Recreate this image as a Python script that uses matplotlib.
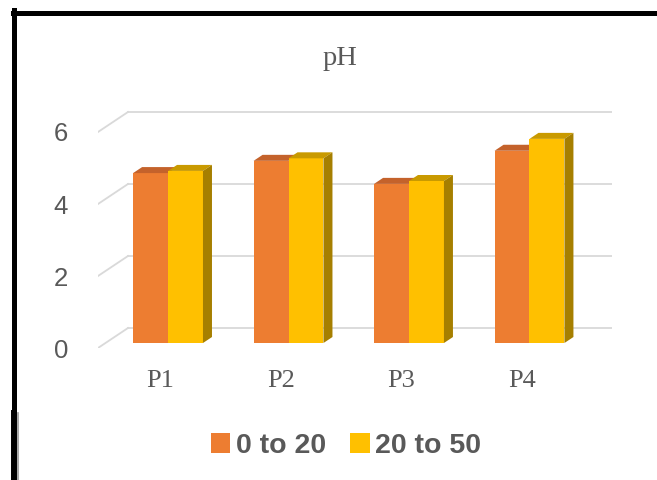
import matplotlib
matplotlib.use("Agg")
import matplotlib.pyplot as plt
from matplotlib.patches import Polygon, Patch
from matplotlib.lines import Line2D

categories = ["P1", "P2", "P3", "P4"]
series_names = ["0 to 20", "20 to 50"]
depth_0_20 = [4.72, 5.06, 4.42, 5.34]
depth_20_50 = [4.78, 5.13, 4.50, 5.67]
y_ticks = [0, 2, 4, 6]

front_cols = ["#ED7D31", "#FFC000"]
top_cols = ["#C4622B", "#C99A00"]
side_col = "#A67F00"
grid_col = "#D9D9D9"
text_col = "#595959"

# oblique projection: depth d (0 = floor front, 1 = back wall)
KX = 30 / 120.5
KY = 20 / 36.0


def proj(x, v, d):
    return (x + d * KX, v + d * KY)


fig = plt.figure(figsize=(6.57, 4.8), dpi=100)
W, H = 657, 480
ax = fig.add_axes([98 / W, 1 - 348 / H, (612 - 98) / W, (348 - 100) / H])
ax.set_xlim(-0.519, 3.747)
ax.set_ylim(0, 248 / 36)
for s in ax.spines.values():
    s.set_visible(False)

# walls
x_left = -0.519
for v in y_ticks:
    p0 = proj(x_left, v, 0)
    p1 = proj(x_left, v, 1)
    ax.plot([p0[0], p1[0]], [p0[1], p1[1]], color=grid_col, lw=1.3, zorder=1)
    ax.plot([p1[0], 3.747], [p1[1], p1[1]], color=grid_col, lw=1.3, zorder=1)

bw = 0.29
d0, d1 = 0.25, 0.55
z = 2
for i, cat in enumerate(categories):
    for k, vals in enumerate([depth_0_20, depth_20_50]):
        v = vals[i]
        x0 = i - bw + k * bw
        x1 = x0 + bw
        bx, by = proj(x0, 0, d0)
        ax.bar(bx, v, width=bw, bottom=by, align="edge", color=front_cols[k],
               zorder=z)
        top = [proj(x0, v, d0), proj(x1, v, d0), proj(x1, v, d1), proj(x0, v, d1)]
        ax.add_patch(Polygon(top, closed=True, color=top_cols[k], lw=0, zorder=z))
        if k == 1:
            side = [proj(x1, 0, d0), proj(x1, v, d0), proj(x1, v, d1), proj(x1, 0, d1)]
            ax.add_patch(Polygon(side, closed=True, color=side_col, lw=0, zorder=z))
        z += 1

ax.set_yticks(y_ticks)
ax.set_yticklabels([str(t) for t in y_ticks], fontsize=18.5, color=text_col,
                   family="Liberation Sans")
ax.set_xticks(range(len(categories)))
ax.set_xticklabels(categories, fontsize=19, color=text_col, family="Liberation Serif")
ax.tick_params(axis="y", length=0, pad=21.5)
ax.tick_params(axis="x", length=0, pad=16)

fig.text(340 / W, 1 - 65 / H, "pH", ha="center", va="baseline", fontsize=20.5,
         color=text_col, family="Liberation Serif")

handles = [Patch(facecolor=c, edgecolor="none") for c in front_cols]
fig.legend(handles, series_names, loc="center", bbox_to_anchor=(346 / W, 1 - 446 / H),
           ncol=2, frameon=False, handlelength=0.68, handleheight=0.65,
           handletextpad=0.2, columnspacing=0.86,
           prop={"family": "Liberation Sans", "weight": "bold", "size": 20.5},
           labelcolor=text_col)

# black frame lines (top and left)
fig.add_artist(Line2D([13 / W, 1], [1 - 12.5 / H, 1 - 12.5 / H], color="black", lw=3.6))
fig.add_artist(Line2D([13.5 / W, 13.5 / W], [1 - 413 / H, 1 - 10 / H], color="black", lw=3.6))
fig.add_artist(Line2D([14 / W, 14 / W], [0, 1 - 413 / H], color="black", lw=4.3))
fig.add_artist(Line2D([17.8 / W, 17.8 / W], [0, 1 - 413 / H], color="#999999", lw=1.2))

fig.savefig("out.png", dpi=100)
